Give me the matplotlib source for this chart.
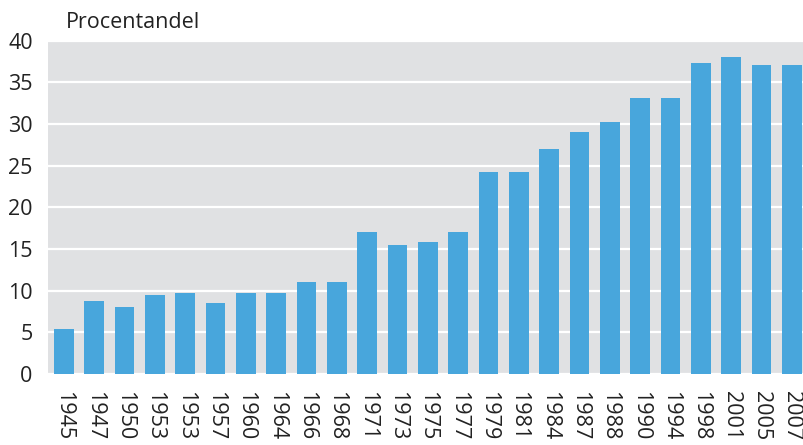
import matplotlib.pyplot as plt
import numpy as np

plt.rcParams['font.family'] = ['Open Sans', 'DejaVu Sans']

years = ['1945', '1947', '1950', '1953', '1953', '1957', '1960', '1964', '1966', '1968',
         '1971', '1973', '1975', '1977', '1979', '1981', '1984', '1987', '1988', '1990',
         '1994', '1998', '2001', '2005', '2007']
andel = [5.4, 8.75, 8.0, 9.5, 9.7, 8.5, 9.7, 9.7, 11.0, 11.0,
         17.1, 15.5, 15.9, 17.1, 24.2, 24.2, 27.0, 29.1, 30.2, 33.1,
         33.1, 37.3, 38.0, 37.05, 37.05]
yticks = [0, 5, 10, 15, 20, 25, 30, 35, 40]

fig = plt.figure(figsize=(8.04, 4.45), dpi=100)
ax = fig.add_axes([48/804, 1 - 374/445, 756/804, (374 - 40.7)/445])
ax.set_facecolor('#e0e1e3')

x = np.arange(len(years))
ax.bar(x, andel, width=0.65, color='#48a6dc', zorder=3)

ax.set_ylim(0, 40)
ax.set_xlim(-0.52, len(years) - 0.6)
ax.set_yticks(yticks)
ax.yaxis.grid(True, color='white', linewidth=1.6, zorder=1)
ax.set_axisbelow(True)
ax.set_xticks(x)
ax.set_xticklabels(years, rotation=270, fontsize=15.5, color='#222222')
ax.tick_params(axis='y', labelsize=15.5, labelcolor='#222222', length=0, pad=11)
ax.tick_params(axis='x', length=0, pad=12)
for s in ax.spines.values():
    s.set_visible(False)

fig.text(66/804, 1 - 22/445, 'Procentandel', fontsize=15.5, color='#222222', va='center')

fig.savefig('out.png', dpi=100)
